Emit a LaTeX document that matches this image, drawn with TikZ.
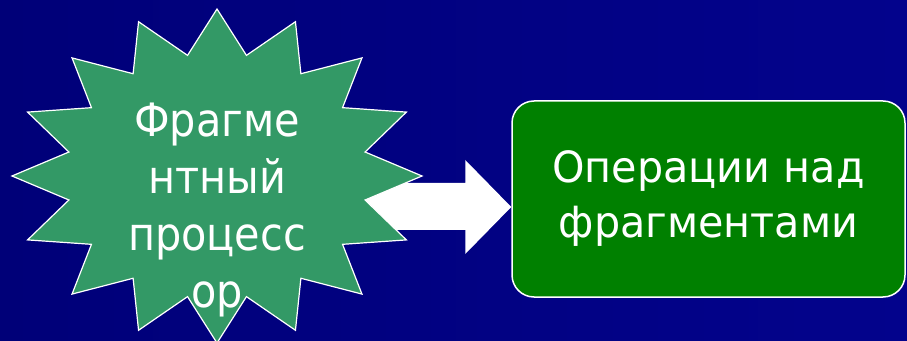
\documentclass[tikz,border=0pt]{standalone}
\usepackage{fontspec}
\setmainfont{DejaVu Sans}
\newfontfamily\starfont[FakeStretch=0.9]{DejaVu Sans}
\newfontfamily\boxfont[FakeStretch=0.96]{DejaVu Sans}
\usetikzlibrary{calc}
\definecolor{bgleft}{HTML}{000078}
\definecolor{bgright}{HTML}{03038C}
\definecolor{stargreen}{HTML}{339966}
\definecolor{boxgreen}{HTML}{008000}
\tikzset{
  startext/.style={text=white, align=center, font=\starfont\fontsize{46}{57}\selectfont, inner sep=0pt},
  opsbox/.style={draw=white, line width=1.5pt, fill=boxgreen, rounded corners=22pt,
    minimum width=393pt, minimum height=196pt, text=white, align=center,
    font=\boxfont\fontsize{43}{55}\selectfont},
  blockarrow/.style={fill=white, draw=none},
  starsty/.style={fill=stargreen, draw=white, line width=1.2pt, line join=miter}
}
\begin{document}
\begin{tikzpicture}[x=1pt,y=1pt]
  \shade[left color=bgleft, right color=bgright] (0,0) rectangle (907,340);
  \useasboundingbox (0,0) rectangle (907,340);
  \node[opsbox] (ops) at (708.5,141) {Операции над\\фрагментами};
  \coordinate (tip) at ($(ops.west)+(0,-8)$);
  \coordinate (c) at (217,164);
  \fill[blockarrow] ($(tip)+(-152,24)$) -- ($(tip)+(-46,24)$) -- ($(tip)+(-46,47)$) -- (tip)
     -- ($(tip)+(-46,-47)$) -- ($(tip)+(-46,-23)$) -- ($(tip)+(-152,-23)$) -- cycle;
  \draw[starsty] plot[samples at={0,...,31}, variable=\k]
     ({217+(mod(\k,2)==0 ? 205 : 151)*cos(90+11.25*\k)},
      {164+(mod(\k,2)==0 ? 167 : 123)*sin(90+11.25*\k)}) -- cycle;
  \node[startext, anchor=base] (frag) at (217,33) {Фрагме\\нтный\\процесс\\ор};
\end{tikzpicture}
\end{document}
